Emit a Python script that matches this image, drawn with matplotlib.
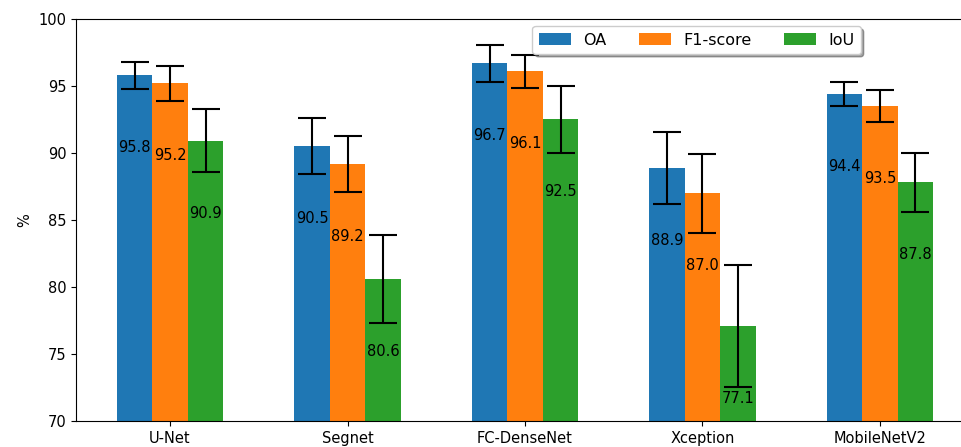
import matplotlib
matplotlib.use('Agg')
import matplotlib.pyplot as plt
import numpy as np

models = ['U-Net', 'Segnet', 'FC-DenseNet', 'Xception', 'MobileNetV2']

oa = [95.8, 90.5, 96.7, 88.9, 94.4]
f1 = [95.2, 89.2, 96.1, 87.0, 93.5]
iou = [90.9, 80.6, 92.5, 77.1, 87.8]

oa_err = [1.0, 2.1, 1.37, 2.7, 0.9]
f1_err = [1.3, 2.1, 1.25, 2.95, 1.22]
iou_err = [2.35, 3.3, 2.5, 4.57, 2.17]

series = [('OA', oa, oa_err), ('F1-score', f1, f1_err), ('IoU', iou, iou_err)]

plt.rcParams['font.size'] = 10.5

### PLOT
fig = plt.figure(figsize=(9.62, 4.47), dpi=100)
# axes runs past the right edge (reference is cropped there)
ax = fig.add_axes([0.079, 0.0582, 0.9335, 0.8993])

x = np.arange(len(models))
w = 0.2
for i, (name, vals, errs) in enumerate(series):
    pos = x + (i - 1) * w
    ax.bar(pos, vals, w, yerr=errs, label=name,
           error_kw=dict(elinewidth=1.5, capsize=10, capthick=1.5, ecolor='black'))
    for p, v in zip(pos, vals):
        ax.text(p, v - 5.4, f'{v:.1f}', ha='center', va='center')

ax.set_ylim(70, 100)
ax.set_xticks(x)
ax.set_xticklabels(models)
ax.set_ylabel('%')
ax.legend(ncol=3, shadow=True, loc='upper right', bbox_to_anchor=(0.874, 0.982),
          borderaxespad=0, fontsize=11.5)

fig.savefig('out.png', dpi=100)
